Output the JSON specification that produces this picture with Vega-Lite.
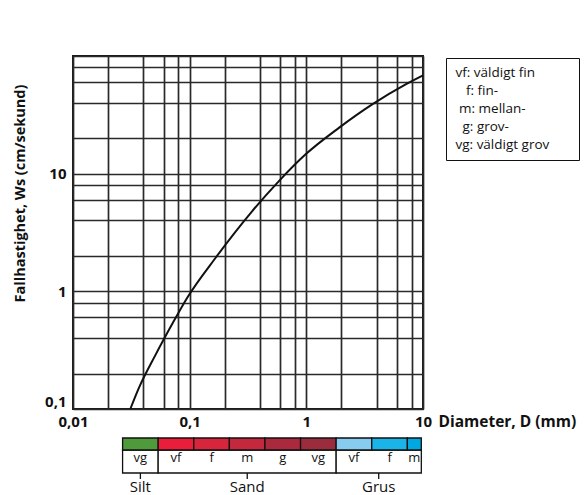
{
  "$schema": "https://vega.github.io/schema/vega-lite/v6.json",
  "padding": {"left": 11, "top": 55, "right": 0, "bottom": 0},
  "config": {"font": "Open Sans", "view": {"stroke": null}},
  "datasets": {
    "curve": [
      {"d": 0.031, "w": 0.1},
      {"d": 0.0368, "w": 0.152},
      {"d": 0.0511, "w": 0.29},
      {"d": 0.071, "w": 0.53},
      {"d": 0.0953, "w": 0.883},
      {"d": 0.167, "w": 1.93},
      {"d": 0.344, "w": 4.81},
      {"d": 0.582, "w": 8.65},
      {"d": 0.986, "w": 14.6},
      {"d": 1.9, "w": 24.5},
      {"d": 3.67, "w": 38.8},
      {"d": 7.1, "w": 57.4},
      {"d": 10, "w": 68.5}
    ],
    "legend": [
      {"lbl": "vf: väldigt fin"},
      {"lbl": "\u200b\u00a0\u00a0\u00a0f: fin-"},
      {"lbl": "\u200b\u00a0m: mellan-"},
      {"lbl": "\u200b\u00a0\u00a0g: grov-"},
      {"lbl": "vg: väldigt grov\u00a0\u00a0\u00a0\u00a0\u00a0\u00a0\u200b"}
    ],
    "classes": [
      {"key": "Silt vg", "sub": "vg", "from": 0.03125, "to": 0.0625, "mid": 0.0442},
      {"key": "Sand vf", "sub": "vf", "from": 0.0625, "to": 0.125, "mid": 0.0884},
      {"key": "Sand f", "sub": "f", "from": 0.125, "to": 0.25, "mid": 0.177},
      {"key": "Sand m", "sub": "m", "from": 0.25, "to": 0.5, "mid": 0.354},
      {"key": "Sand g", "sub": "g", "from": 0.5, "to": 1, "mid": 0.707},
      {"key": "Sand vg", "sub": "vg", "from": 1, "to": 2, "mid": 1.414},
      {"key": "Grus vf", "sub": "vf", "from": 2, "to": 4, "mid": 2.83},
      {"key": "Grus f", "sub": "f", "from": 4, "to": 8, "mid": 5.66},
      {"key": "Grus m", "sub": "m", "from": 8, "to": 10.5, "mid": 9.17}
    ],
    "groups": [
      {"grp": "Silt", "from": 0.03125, "to": 0.0625, "mid": 0.0442},
      {"grp": "Sand", "from": 0.0625, "to": 2, "mid": 0.354},
      {"grp": "Grus", "from": 2, "to": 10.5, "mid": 4.58}
    ]
  },
  "vconcat": [
    {
      "width": 350,
      "height": 353,
      "view": {"stroke": "#1a1a1a", "strokeWidth": 2},
      "layer": [
        {
          "data": {"name": "curve"},
          "mark": {"type": "line", "color": "#111", "strokeWidth": 2, "interpolate": "monotone"},
          "encoding": {
            "x": {
              "field": "d", "type": "quantitative",
              "scale": {"type": "log", "domain": [0.01, 10], "nice": false},
              "axis": {
                "values": [0.01, 0.02, 0.04, 0.06, 0.08, 0.1, 0.2, 0.4, 0.6, 0.8, 1, 2, 4, 6, 8, 10],
                "labelExpr": "datum.value == 0.01 ? '0,01' : datum.value == 0.1 ? '0,1' : datum.value == 1 ? '1' : datum.value == 10 ? '10' : ''",
                "labelOverlap": false, "labelFlush": false,
                "ticks": false, "domain": false,
                "grid": true, "gridColor": "#2a2a2a", "gridWidth": 1.7,
                "labelFontSize": 15, "labelFontWeight": "bold", "labelColor": "#111", "labelPadding": 5,
                "title": "Diameter, D (mm)",
                "titleFontSize": 15.5, "titleFontWeight": "bold", "titleColor": "#111",
                "titleAngle": 0, "titleAlign": "left", "titleBaseline": "top",
                "titleX": 365, "titleY": 5
              }
            },
            "y": {
              "field": "w", "type": "quantitative",
              "scale": {"type": "log", "domain": [0.1, 100], "nice": false},
              "axis": {
                "values": [0.1, 0.2, 0.4, 0.6, 0.8, 1, 2, 4, 6, 8, 10, 20, 40, 60, 80, 100],
                "labelExpr": "datum.value == 0.1 ? '0,1' : datum.value == 1 ? '1' : datum.value == 10 ? '10' : ''",
                "labelOverlap": false, "labelFlush": true,
                "ticks": false, "domain": false,
                "grid": true, "gridColor": "#2a2a2a", "gridWidth": 1.7,
                "labelFontSize": 15, "labelFontWeight": "bold", "labelColor": "#111", "labelPadding": 7,
                "title": "Fallhastighet, Ws (cm/sekund)",
                "titleFontSize": 14.5, "titleFontWeight": "bold", "titleColor": "#111",
                "titlePadding": 17, "titleY": 137
              }
            }
          }
        },
        {
          "data": {"name": "legend"},
          "mark": {"type": "point", "opacity": 0, "size": 0},
          "encoding": {
            "shape": {
              "field": "lbl", "type": "nominal",
              "scale": {"domain": ["vf: väldigt fin", "\u200b\u00a0\u00a0\u00a0f: fin-", "\u200b\u00a0m: mellan-", "\u200b\u00a0\u00a0g: grov-", "vg: väldigt grov\u00a0\u00a0\u00a0\u00a0\u00a0\u00a0\u200b"]},
              "legend": {
                "title": null, "orient": "none", "legendX": 373, "legendY": 2,
                "strokeColor": "#111", "fillColor": "white", "padding": 8,
                "symbolSize": 0, "symbolOpacity": 0, "symbolStrokeWidth": 0, "labelOffset": -12,
                "labelFontSize": 13.5, "labelColor": "#111", "labelLimit": 300, "rowPadding": 3,
                "encode": {"legend": {"update": {"strokeWidth": {"value": 1.5}}}}
              }
            }
          }
        }
      ]
    },
    {
      "width": 350,
      "height": 58,
      "view": {"stroke": null},
      "layer": [
        {
          "data": {"name": "groups"},
          "mark": {"type": "rect", "fill": "white", "stroke": "#111", "strokeWidth": 1.3},
          "encoding": {
            "x": {"field": "from", "type": "quantitative", "scale": {"type": "log", "domain": [0.0119, 10.85], "nice": false}, "axis": null},
            "x2": {"field": "to"},
            "y": {"datum": 12, "type": "quantitative", "scale": {"domain": [0, 58], "reverse": true, "nice": false}, "axis": null},
            "y2": {"datum": 35}
          }
        },
        {
          "data": {"name": "classes"},
          "mark": {"type": "rect", "stroke": "#111", "strokeWidth": 1.3},
          "encoding": {
            "x": {"field": "from", "type": "quantitative"},
            "x2": {"field": "to"},
            "y": {"datum": 0, "type": "quantitative"},
            "y2": {"datum": 12},
            "color": {
              "field": "key", "type": "nominal", "legend": null,
              "scale": {
                "domain": ["Silt vg", "Sand vf", "Sand f", "Sand m", "Sand g", "Sand vg", "Grus vf", "Grus f", "Grus m"],
                "range": ["#4f9a3b", "#ea1d3a", "#d7263c", "#c4283d", "#ab293c", "#9b2c3d", "#87cbef", "#1ab4e9", "#00a8e2"]
              }
            }
          }
        },
        {
          "data": {"name": "classes"},
          "mark": {"type": "text", "fontSize": 13, "color": "#111", "baseline": "middle"},
          "encoding": {
            "x": {"field": "mid", "type": "quantitative"},
            "y": {"datum": 20, "type": "quantitative"},
            "text": {"field": "sub"}
          }
        },
        {
          "data": {"name": "groups"},
          "mark": {"type": "rule", "color": "#111", "strokeWidth": 1.3},
          "encoding": {
            "x": {"field": "mid", "type": "quantitative"},
            "y": {"datum": 35, "type": "quantitative"},
            "y2": {"datum": 41}
          }
        },
        {
          "data": {"name": "groups"},
          "mark": {"type": "text", "fontSize": 15, "color": "#111", "baseline": "middle"},
          "encoding": {
            "x": {"field": "mid", "type": "quantitative"},
            "y": {"datum": 49, "type": "quantitative"},
            "text": {"field": "grp"}
          }
        }
      ]
    }
  ],
  "spacing": 29,
  "bounds": "flush",
  "resolve": {"scale": {"x": "independent"}}
}
